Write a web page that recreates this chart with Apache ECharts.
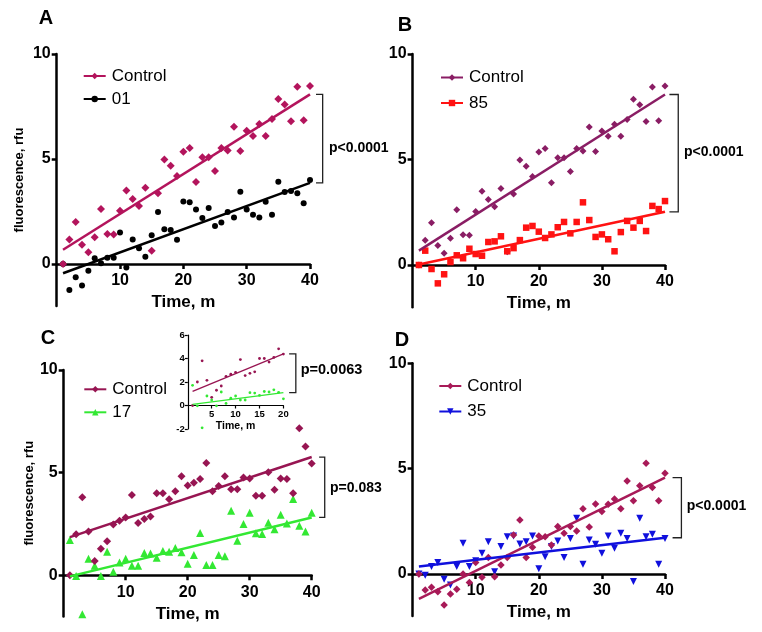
<!DOCTYPE html>
<html>
<head>
<meta charset="utf-8">
<script src="https://cdn.jsdelivr.net/npm/echarts@6/dist/echarts.min.js"></script>
<style>
html,body{margin:0;padding:0;background:#fff;}
#chart{width:762px;height:632px;}
</style>
</head>
<body>
<div id="chart"></div>
<script>
// ---------- DATA ----------
const times = [1,2,3,4,5,6,7,8,9,10,11,12,13,14,15,16,17,18,19,20,21,22,23,24,25,26,27,28,29,30,31,32,33,34,35,36,37,38,39,40];
const yTickLabels = [0, 5, 10];
const xTickLabels = [10, 20, 30, 40];
const insetYTicks = [-2, 0, 2, 4, 6];
const insetXTicks = [5, 10, 15, 20];

// Panels A and B share the control experiment
const controlAB = [0,1.17,2.0,0.92,0.56,1.27,2.62,1.43,1.41,2.54,3.5,3.1,2.76,3.63,0.63,3.37,4.98,4.68,4.19,5.35,5.52,3.9,5.08,5.08,4.43,5.52,5.4,6.54,5.38,6.35,6.1,6.67,6.1,6.9,7.86,7.6,6.8,8.44,6.84,8.48];
const sample01 = [0,-1.24,-0.63,-1.02,-0.32,0.27,0.03,0.3,0.3,1.5,-0.17,1.17,0.75,0.35,1.37,2.48,1.65,1.62,1.16,2.98,2.94,2.59,2.19,2.67,1.81,1.98,2.48,2.22,3.44,2.59,2.35,2.22,2.97,2.35,3.92,3.43,3.48,3.37,2.89,4.0];
const sample85 = [0,0.68,-0.19,-0.87,-0.44,0.14,0.46,0.32,0.77,0.52,0.44,1.09,1.12,1.36,0.65,0.8,1.18,1.77,1.85,1.58,1.28,1.45,1.79,2.04,1.5,2.04,2.97,2.13,1.33,1.45,1.22,0.65,1.56,2.09,1.77,2.09,1.61,2.8,2.65,3.03];
const controlC = [0,2.0,3.8,2.14,0.7,1.3,1.66,2.48,2.66,2.82,3.91,2.55,2.74,2.87,4.0,4.0,3.7,4.09,4.82,4.38,4.51,4.69,5.47,4.09,4.35,4.82,4.19,4.19,4.77,4.72,3.88,3.88,5.02,4.17,4.72,4.69,4.0,7.16,6.28,5.45];
const sample17 = [1.72,-0.03,-1.9,0.81,0.47,-0.03,1.15,0.18,0.62,0.81,0.47,0.47,1.09,1.06,0.86,1.19,1.15,1.33,1.12,0.57,0.99,2.06,0.5,0.5,0.99,0.93,3.15,1.69,2.5,3.05,2.05,2.01,2.56,2.24,2.95,2.53,3.72,2.42,2.14,3.05];
const controlD = [0,-0.76,-0.63,-0.85,-1.47,-0.95,-0.73,0.0,-0.41,0.54,-0.16,0.78,-0.13,0.43,0.78,1.85,2.56,0.78,1.27,1.8,1.77,1.38,2.25,1.93,2.25,2.04,3.09,2.23,3.32,2.97,3.31,3.56,3.1,4.41,3.47,4.19,5.25,4.1,3.47,4.78];
const sample35 = [0,-0.06,0.35,0.54,-0.25,-0.52,0.35,1.46,0.35,0.63,0.98,1.53,0.11,1.3,1.77,1.8,1.42,1.53,1.8,0.25,0.82,1.3,1.57,0.78,1.68,2.64,0.46,1.61,1.41,0.98,1.8,1.22,1.93,1.68,-0.36,2.64,1.77,1.88,0.46,1.68];

// regression lines: [time, value] at both ends
const fitControlAB = [[1,0.68],[40,8.08]];
const fit01 = [[1,-0.44],[40,3.86]];
const fit85 = [[1,0.02],[40,2.52]];
const fitControlC = [[1,1.86],[40,5.76]];
const fit17 = [[1,-0.05],[40,2.82]];
const fitControlD = [[1,-1.18],[40,4.57]];
const fit35 = [[1,0.35],[40,1.72]];
const insetPoints = 20;
const fitInsetControl = [[1,1.2],[20,4.4]];
const fitInset17 = [[1,0.1],[20,1.1]];

const pValues = ['p<0.0001','p<0.0001','p=0.083','p<0.0001','p=0.0063'];
const panelLetters = ['A','B','C','D'];

// ---------- STYLE ----------
const FONT = "'Liberation Sans', Arial, sans-serif";
const col = {
  ctrlA:'#B3145C', ctrlB:'#8A1D64', ctrlC:'#971552', ctrlD:'#A81A58',
  s01:'#000000', s85:'#FF1212', s17:'#33E833', s35:'#1010DD'
};

const grids = [
  {left:56.7, top:54, width:253.3, height:252},
  {left:412.6, top:54, width:252.4, height:253.2},
  {left:63.7, top:370, width:248, height:246.4},
  {left:412.6, top:363.3, width:252.4, height:252.8},
  {left:187.8, top:335, width:95.6, height:94}
];
const yRange = [[-2,10],[-2,10],[-2,10],[-2,10],[-2,6]];
const xRange = [[0,40],[0,40],[0,40],[0,40],[0,20]];

function pts(vals, n) {
  const arr = [];
  const m = n || vals.length;
  for (let i = 0; i < m; i++) arr.push([times[i], vals[i]]);
  return arr;
}

const xAxes = [], yAxes = [];
// axis lines at y = 0
for (let i = 0; i < 5; i++) {
  const inset = i === 4;
  xAxes.push({
    gridIndex:i, type:'value', min:xRange[i][0], max:xRange[i][1],
    axisLine:{onZero:true, lineStyle:{color:'#000', width:inset?1.2:2.5}},
    axisTick:{show:false}, axisLabel:{show:false}, splitLine:{show:false}
  });
}
// ticks, labels and names, shifted up to the zero line
for (let i = 0; i < 5; i++) {
  const inset = i === 4;
  const g = grids[i];
  const zeroOffset = g.height * (0 - yRange[i][0]) / (yRange[i][1] - yRange[i][0]);
  xAxes.push({
    gridIndex:i, type:'value', min:xRange[i][0], max:xRange[i][1], position:'bottom',
    offset:-zeroOffset,
    name:'Time, m', nameLocation:'middle', nameGap:inset?14:30,
    nameTextStyle:{fontFamily:FONT, fontWeight:'bold', fontSize:inset?10.5:17, color:'#000'},
    axisLine:{show:false, onZero:false},
    axisTick:{show:true, customValues:inset?insetXTicks:xTickLabels, length:inset?3:5,
      lineStyle:{color:'#000', width:inset?1.2:2.5}},
    axisLabel:{show:true, customValues:inset?insetXTicks:xTickLabels, margin:inset?4:9,
      fontFamily:FONT, fontWeight:'bold', fontSize:inset?9.5:16, color:'#000'},
    splitLine:{show:false}
  });
}
for (let i = 0; i < 4; i++) {
  yAxes.push({
    gridIndex:i, type:'value', min:yRange[i][0], max:yRange[i][1],
    name:(i===0||i===2)?'fluorescence, rfu':'', nameLocation:'middle', nameRotate:90,
    nameGap:(i===0?31:28),
    nameTextStyle:{fontFamily:FONT, fontWeight:'bold', fontSize:13, color:'#000'},
    axisLine:{onZero:false, lineStyle:{color:'#000', width:2.5}},
    axisTick:{customValues:yTickLabels, length:5, lineStyle:{color:'#000', width:2.5}},
    axisLabel:{customValues:yTickLabels, margin:6, fontFamily:FONT, fontWeight:'bold', fontSize:16, color:'#000'},
    splitLine:{show:false}
  });
}
yAxes.push({
  gridIndex:4, type:'value', min:yRange[4][0], max:yRange[4][1], interval:2,
  axisLine:{onZero:false, lineStyle:{color:'#000', width:1.2}},
  axisTick:{customValues:insetYTicks, length:3, lineStyle:{color:'#000', width:1.2}},
  axisLabel:{customValues:insetYTicks, margin:3, fontFamily:FONT, fontWeight:'bold', fontSize:9.5, color:'#000'},
  splitLine:{show:false}
});

const series = [];
function addScatter(ax, data, color, symbol, size, rotate, z) {
  series.push({
    type:'scatter', xAxisIndex:ax, yAxisIndex:ax, data:data,
    symbol:symbol, symbolSize:size, symbolRotate:rotate||0,
    itemStyle:{color:color, opacity:1}, z:z||2, silent:true
  });
}
function addFit(ax, name, data, color, symbol, width, rotate) {
  series.push({
    type:'line', name:name, xAxisIndex:ax, yAxisIndex:ax, data:data,
    symbol:symbol, symbolRotate:rotate||0, showSymbol:false,
    lineStyle:{color:color, width:width}, itemStyle:{color:color},
    z:4, silent:true
  });
}
const brackets = [];
function addBracket(ax, fitTop, fitBottom, x0, x1, w) {
  brackets.push({ax:ax, top:fitTop[fitTop.length-1][1], bot:fitBottom[fitBottom.length-1][1], x0:x0, x1:x1, w:w||1.3});
}

// Panel A
addScatter(0, pts(sample01), col.s01, 'circle', 6);
addScatter(0, pts(controlAB), col.ctrlA, 'diamond', 8, 0, 3);
addFit(0, 'Control_A', fitControlAB, col.ctrlA, 'diamond', 2.5);
addFit(0, '01_A', fit01, col.s01, 'circle', 2.5);
addBracket(0, fitControlAB, fit01, 40.95, 42.0);
// Panel B
addScatter(1, pts(controlAB), col.ctrlB, 'diamond', 7);
addScatter(1, pts(sample85), col.s85, 'rect', 6.5, 0, 3);
addFit(1, 'Control_B', fitControlAB, col.ctrlB, 'diamond', 2.5);
addFit(1, '85_B', fit85, col.s85, 'rect', 2.5);
addBracket(1, fitControlAB, fit85, 40.7, 42.1);
// Panel C
addScatter(2, pts(sample17), col.s17, 'triangle', 8);
addScatter(2, pts(controlC), col.ctrlC, 'diamond', 8, 0, 3);
addFit(2, 'Control_C', fitControlC, col.ctrlC, 'diamond', 2.5);
addFit(2, '17_C', fit17, col.s17, 'triangle', 2.5);
addBracket(2, fitControlC, fit17, 41.2, 42.1);
// Panel D
addScatter(3, pts(sample35), col.s35, 'triangle', 7, 180);
addScatter(3, pts(controlD), col.ctrlD, 'diamond', 7.5, 0, 3);
addFit(3, 'Control_D', fitControlD, col.ctrlD, 'diamond', 2.5);
addFit(3, '35_D', fit35, col.s35, 'triangle', 2.5, 180);
addBracket(3, fitControlD, fit35, 41.2, 42.6);
// Inset (first 20 minutes of panel C)
addScatter(4, pts(sample17, insetPoints), col.s17, 'circle', 2.8);
addScatter(4, pts(controlC, insetPoints), col.ctrlC, 'circle', 2.8, 0, 3);
addFit(4, 'ic', fitInsetControl, col.ctrlC, 'none', 1.3);
addFit(4, 'i17', fitInset17, col.s17, 'none', 1.3);
addBracket(4, fitInsetControl, fitInset17, 21.2, 22.6, 1.3);

function legend(names, left, top, gap) {
  return {
    data:names, left:left, top:top, orient:'vertical', itemGap:gap,
    itemWidth:22, itemHeight:8, selectedMode:false, padding:0,
    textStyle:{fontFamily:FONT, fontSize:17, color:'#000', padding:[0,0,0,1]},
    formatter:function(n){ return n.split('_')[0]; }
  };
}

const letterPos = [[46,18.5],[405,25.5],[48,338.3],[402,340.7]];
const pPos = [[329,148],[684,151.7],[330,488.3],[686.7,506],[300.7,370]];
const pSize = [14,14,14,14,14.5];

const chart = echarts.init(document.getElementById('chart'), null, {renderer:'canvas'});
chart.setOption({
  animation:false,
  backgroundColor:'#fff',
  grid:grids,
  xAxis:xAxes,
  yAxis:yAxes,
  legend:[
    legend(['Control_A','01_A'], 82.7, 67.5, 6),
    legend(['Control_B','85_B'], 440, 69, 8.5),
    legend(['Control_C','17_C'], 83.3, 380.8, 6),
    legend(['Control_D','35_D'], 438.3, 377.5, 8.5)
  ],
  series:series
});

// annotations: brackets placed through the axes' own scales, texts
const graphics = [];
brackets.forEach(function(b){
  const f = {xAxisIndex:b.ax, yAxisIndex:b.ax};
  const p = [[b.x0,b.top],[b.x1,b.top],[b.x1,b.bot],[b.x0,b.bot]].map(function(v){ return chart.convertToPixel(f, v); });
  graphics.push({type:'polyline', shape:{points:p}, style:{stroke:'#222', lineWidth:b.w, fill:null}, silent:true, z:10});
});
panelLetters.forEach(function(t,i){
  graphics.push({type:'text', x:letterPos[i][0], y:letterPos[i][1],
    style:{text:t, font:'bold 20px '+FONT, fill:'#000', align:'center', verticalAlign:'middle'}});
});
pValues.forEach(function(t,i){
  graphics.push({type:'text', x:pPos[i][0], y:pPos[i][1],
    style:{text:t, font:'bold '+pSize[i]+'px '+FONT, fill:'#000', align:'left', verticalAlign:'middle'}});
});
chart.setOption({graphic:graphics});
</script>
</body>
</html>
